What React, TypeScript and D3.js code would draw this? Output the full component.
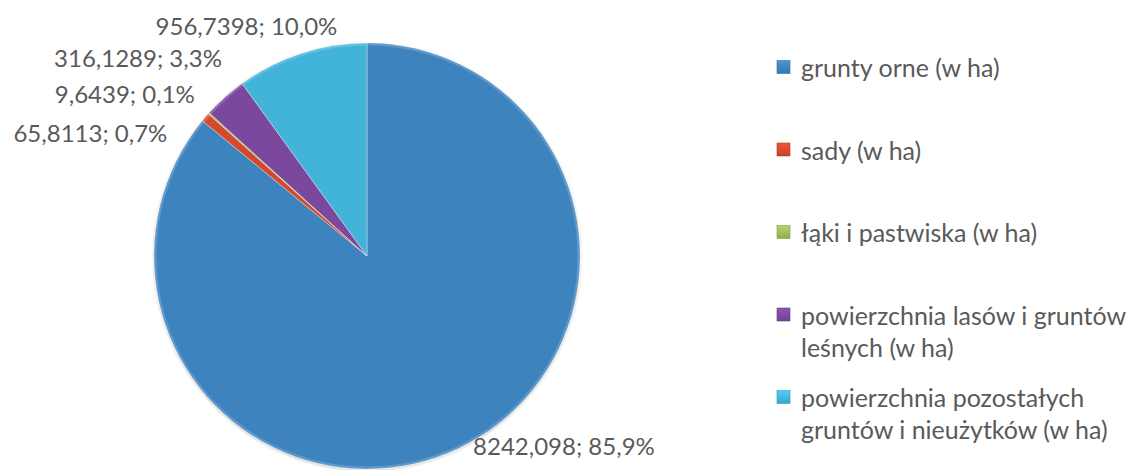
import { useEffect, useRef } from 'react';
import * as d3 from 'd3';

// categories in Excel order (clockwise from 12 o'clock)
const categories = [
  'grunty orne (w ha)',
  'sady (w ha)',
  'łąki i pastwiska (w ha)',
  'powierzchnia lasów i gruntów\nleśnych (w ha)',
  'powierzchnia pozostałych\ngruntów i nieużytków (w ha)',
];
const values = [8242.098, 65.8113, 9.6439, 316.1289, 956.7398];
const colors = ['#3c83bd', '#d4492f', '#9bbb59', '#7a4a9e', '#42b4da'];

const W = 1127;
const H = 470;

export default function App() {
  const svgRef = useRef<SVGSVGElement>(null);

  useEffect(() => {
    if (!svgRef.current) return;
    const svg = d3.select(svgRef.current);
    svg.selectAll('*').remove();

    const cx = 367;
    const cy = 256;
    const r = 213;
    const font = 'Lato, "Open Sans", sans-serif';
    const textColor = '#5a5a5a';

    const total = d3.sum(values);
    const fmtNum = (v: number) => String(v).replace('.', ',');
    const fmtPct = (v: number) => ((v / total) * 100).toFixed(1).replace('.', ',') + '%';

    const pie = d3.pie<number>().sort(null).value(d => d);
    const arcs = pie(values);
    const arc = d3.arc<d3.PieArcDatum<number>>().innerRadius(0).outerRadius(r);
    const rim = d3.arc<d3.PieArcDatum<number>>().innerRadius(r).outerRadius(r);

    const g = svg.append('g').attr('transform', `translate(${cx},${cy})`);

    const defs = svg.append('defs');
    const sh = defs.append('filter').attr('id', 'shadow').attr('x', '-10%').attr('y', '-10%').attr('width', '120%').attr('height', '120%');
    sh.append('feDropShadow').attr('dx', 0).attr('dy', 1).attr('stdDeviation', 1.5).attr('flood-color', '#000').attr('flood-opacity', 0.25);

    const slices = g.append('g').attr('filter', 'url(#shadow)');
    slices.selectAll('path')
      .data(arcs)
      .enter()
      .append('path')
      .attr('d', arc)
      .attr('fill', (_, i) => colors[i])
      .attr('stroke', 'rgba(255,255,255,0.35)')
      .attr('stroke-width', 1);

    // soft bevel highlight along the rim
    g.append('circle')
      .attr('r', r - 1.5)
      .attr('fill', 'none')
      .attr('stroke', 'rgba(255,255,255,0.18)')
      .attr('stroke-width', 2);

    // data labels: anchored at the slice's rim point, nudged like Excel's best fit
    const nudges: [number, number, string][] = [
      [15, 6, 'start'],
      [-38, 25, 'end'],
      [-14, -10, 'end'],
      [-3, -30, 'end'],
      [36, -18, 'end'],
    ];
    g.selectAll('text.lbl')
      .data(arcs)
      .enter()
      .append('text')
      .attr('class', 'lbl')
      .attr('x', (d, i) => rim.centroid(d)[0] + nudges[i][0])
      .attr('y', (d, i) => rim.centroid(d)[1] + nudges[i][1])
      .attr('text-anchor', (_, i) => nudges[i][2])
      .attr('font-family', font)
      .attr('font-size', 24)
      .attr('fill', textColor)
      .text(d => `${fmtNum(d.data)}; ${fmtPct(d.data)}`);

    // legend
    const legendX = 777;
    const itemY = d3.scalePoint<number>().domain(d3.range(categories.length)).range([67, 397]);
    const lineH = 32;
    const legend = svg.append('g');
    categories.forEach((name, i) => {
      const y0 = itemY(i) as number;
      const base = d3.color(colors[i])!;
      const gid = `sw${i}`;
      const lg = defs.append('linearGradient').attr('id', gid).attr('x1', 0).attr('y1', 0).attr('x2', 0).attr('y2', 1);
      lg.append('stop').attr('offset', '0%').attr('stop-color', base.brighter(0.4).formatHex());
      lg.append('stop').attr('offset', '100%').attr('stop-color', base.darker(0.25).formatHex());
      legend.append('rect')
        .attr('x', legendX)
        .attr('y', y0 - 6.5)
        .attr('width', 13)
        .attr('height', 13)
        .attr('fill', `url(#${gid})`)
        .attr('stroke', base.darker(0.5).formatHex())
        .attr('stroke-width', 0.6);
      const t = legend.append('text')
        .attr('font-family', font)
        .attr('font-size', 25)
        .attr('fill', textColor);
      name.split('\n').forEach((line, j) => {
        t.append('tspan')
          .attr('x', legendX + 24)
          .attr('y', y0 + j * lineH)
          .attr('dominant-baseline', 'central')
          .text(line);
      });
    });
  }, []);

  return (
    <div style={{ position: 'absolute', left: 0, top: 0, width: W, height: H, background: '#fff' }}>
      <svg ref={svgRef} width={W} height={H}></svg>
    </div>
  );
}
